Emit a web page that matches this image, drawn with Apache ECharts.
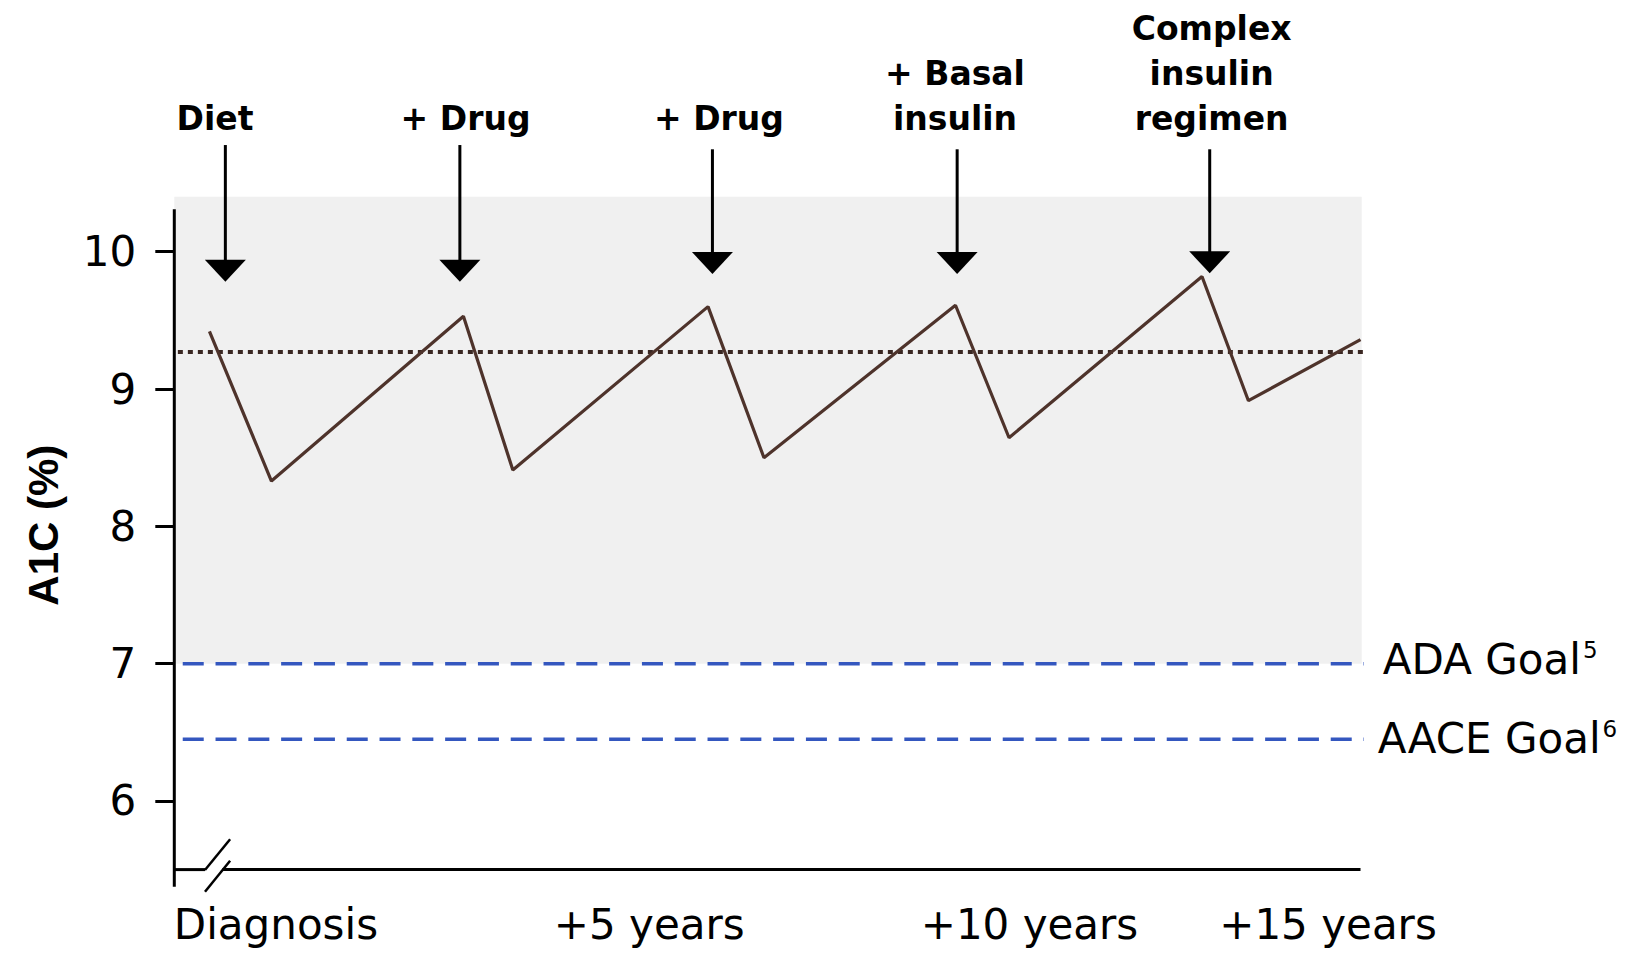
<!DOCTYPE html>
<html>
<head>
<meta charset="utf-8">
<script src="https://cdn.jsdelivr.net/npm/echarts@6/dist/echarts.min.js"></script>
<style>
html,body{margin:0;padding:0;background:#ffffff;}
#chart{width:1649px;height:953px;}
</style>
</head>
<body>
<div id="chart"></div>
<script>
// ---------------- data ----------------
const timeTickValues = [8.56, 40.0, 72.02, 97.16];
const timeTickLabels = ['Diagnosis', '+5 years', '+10 years', '+15 years'];
const a1cTicks = [6, 7, 8, 9, 10];

const a1cTime  = [2.96, 8.18, 24.35, 28.51, 44.95, 49.66, 65.79, 70.30, 86.55, 90.46, 99.9];
const a1cValue = [9.42, 8.33, 9.53, 8.41, 9.60, 8.50, 9.61, 8.645, 9.82, 8.915, 9.36];

const thresholdA1c = 9.27;
const goalNames = ['ADA Goal', 'AACE Goal'];
const goalRefs = ['5', '6'];
const goalValues = [7.0, 6.45];
const poorControlRange = [7.0, 10.4];

const interventionNames = ['Diet', '+ Drug', '+ Drug', '+ Basal\ninsulin', 'Complex\ninsulin\nregimen'];
const interventionTime = [4.3, 24.05, 45.32, 65.93, 87.2];

// ---------------- layout (positions in axis units) ----------------
const X_MIN = 0, X_MAX = 100, Y_MIN = 5.5, Y_MAX = 10.4;
const labelTime = [3.43, 24.53, 45.87, 65.75, 87.36];
const labelBaseY = 10.81;
const shaftTop = [10.777, 10.777, 10.746, 10.746, 10.746];
const headCenter = [9.861, 9.861, 9.918, 9.918, 9.923];
const goalLineStart = 0.71, goalLineEnd = 100.6;

const INK = '#000000';
const FONT = 'DejaVu Sans';

function seg(points, style, z) {
  return {
    type: 'line', data: points, symbol: 'none', clip: false, silent: true,
    lineStyle: style, z: z || 5, animation: false
  };
}

const series = [];

// shaded poor-control band
series.push({
  type: 'line', data: [], silent: true, z: 1,
  markArea: {
    silent: true,
    itemStyle: { color: '#f0f0f0', opacity: 1 },
    data: [[{ xAxis: X_MIN, yAxis: poorControlRange[0] }, { xAxis: X_MAX, yAxis: poorControlRange[1] }]]
  }
});

// goal lines
goalValues.forEach(function (g, i) {
  series.push(seg([[goalLineStart, g], [goalLineEnd, g]],
    { color: '#3457bf', width: 3.5, type: [21, 11.8], cap: 'butt' }, 3));
  series.push({
    type: 'scatter', symbolSize: 0, silent: true, clip: false, z: 6,
    itemStyle: { opacity: 1 },
    data: [[goalLineEnd, g]],
    label: {
      show: true, position: 'right', distance: i === 0 ? 14 : 9,
      offset: [0, i === 0 ? -4 : -1], opacity: 1,
      formatter: '{m|' + goalNames[i] + '}{s|' + goalRefs[i] + '}',
      rich: {
        m: { fontFamily: FONT, fontSize: 42, color: INK, lineHeight: 46 },
        s: { fontFamily: FONT, fontSize: 23, color: INK, verticalAlign: 'top', lineHeight: 46, padding: [2, 0, 0, 2] }
      }
    }
  });
});

// threshold dotted line
series.push(seg([[0.3, thresholdA1c], [100.3, thresholdA1c]],
  { color: '#3a2722', width: 4, type: [5, 5] }, 4));

// A1C sawtooth
series.push({
  type: 'line', symbol: 'none', silent: true, z: 5, clip: false,
  data: a1cTime.map(function (t, i) { return [t, a1cValue[i]]; }),
  lineStyle: { color: '#4e332b', width: 3.2 }
});

// custom axis lines and break mark
series.push(seg([[0, 5.375], [0, 10.31]], { color: INK, width: 3 }, 8));
series.push(seg([[0, 5.5], [2.585, 5.5]], { color: INK, width: 3 }, 8));
series.push(seg([[4.05, 5.5], [99.9, 5.5]], { color: INK, width: 3 }, 8));
series.push(seg([[2.585, 5.497], [4.70, 5.721]], { color: INK, width: 2.5 }, 8));
series.push(seg([[2.585, 5.339], [4.70, 5.565]], { color: INK, width: 2.5 }, 8));

// intervention arrows
interventionTime.forEach(function (t, i) {
  series.push(seg([[t, shaftTop[i]], [t, headCenter[i]]], { color: '#000', width: 3 }, 9));
});
series.push({
  type: 'scatter', silent: true, clip: false, z: 10,
  symbol: 'triangle', symbolRotate: 180, symbolSize: [41, 22],
  itemStyle: { color: '#000', opacity: 1 },
  data: interventionTime.map(function (t, i) { return [t, headCenter[i]]; })
});
// intervention labels
series.push({
  type: 'scatter', silent: true, clip: false, z: 10, symbolSize: 0,
  itemStyle: { opacity: 1 },
  data: labelTime.map(function (t, i) { return { value: [t, labelBaseY], name: interventionNames[i] }; }),
  label: {
    show: true, position: 'top', distance: 0, opacity: 1,
    formatter: function (p) { return p.name; },
    fontFamily: FONT, fontWeight: 'bold', fontSize: 33, lineHeight: 45,
    color: INK, align: 'center'
  }
});

const option = {
  animation: false,
  backgroundColor: '#ffffff',
  grid: { left: 174.3, right: 287.3, top: 196.8, bottom: 83.4, containLabel: false, outerBoundsMode: 'none' },
  xAxis: {
    type: 'value', min: X_MIN, max: X_MAX,
    axisLine: { show: false }, axisTick: { show: false }, splitLine: { show: false },
    axisLabel: {
      show: true, customValues: timeTickValues, margin: 34,
      fontFamily: FONT, fontSize: 42, color: INK,
      formatter: function (v) {
        let best = 0;
        timeTickValues.forEach(function (tv, i) { if (Math.abs(tv - v) < Math.abs(timeTickValues[best] - v)) best = i; });
        return timeTickLabels[best];
      }
    }
  },
  yAxis: {
    type: 'value', min: Y_MIN, max: Y_MAX,
    name: 'A1C (%)', nameLocation: 'middle', nameRotate: 90, nameGap: 110,
    nameTextStyle: { fontFamily: 'Liberation Sans', fontWeight: 'bold', fontSize: 42, color: INK, padding: [0, 0, 0, 16] },
    axisLine: { show: false }, splitLine: { show: false },
    axisTick: { show: true, customValues: a1cTicks, length: 19, lineStyle: { color: INK, width: 3 } },
    axisLabel: { show: true, customValues: a1cTicks, margin: 38, fontFamily: FONT, fontSize: 42, color: INK }
  },
  series: series
};

const chart = echarts.init(document.getElementById('chart'), null, { renderer: 'svg' });
chart.setOption(option);
</script>
</body>
</html>
